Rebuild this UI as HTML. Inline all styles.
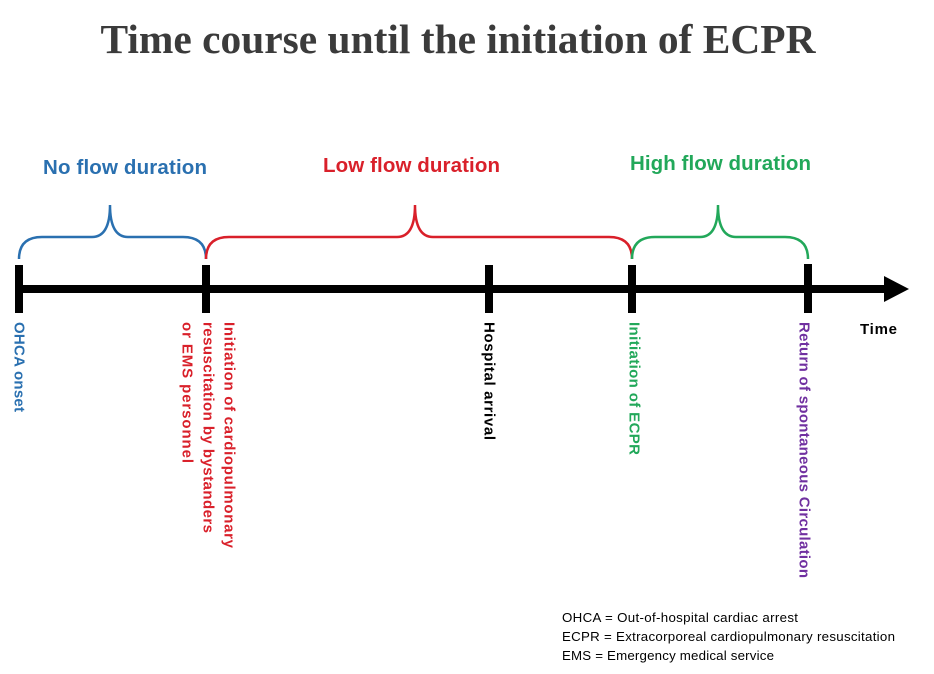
<!DOCTYPE html>
<html><head><meta charset="utf-8"><style>
html,body{margin:0;padding:0;background:#fff;width:934px;height:674px;overflow:hidden}
svg{display:block}
.t{font-family:"Liberation Sans",sans-serif;font-weight:bold;font-size:15px}
</style></head><body>
<svg width="934" height="674" xmlns="http://www.w3.org/2000/svg">
<text x="458" y="53" text-anchor="middle" font-family="Liberation Serif,serif" font-weight="bold" font-size="41.5" fill="#3b3b3b" textLength="715" lengthAdjust="spacingAndGlyphs">Time course until the initiation of ECPR</text>
<text x="43" y="174" font-family="Liberation Sans,sans-serif" font-weight="bold" font-size="20.5" fill="#2a70b0" textLength="164">No flow duration</text>
<text x="323" y="172" font-family="Liberation Sans,sans-serif" font-weight="bold" font-size="20.5" fill="#d9202a" textLength="177">Low flow duration</text>
<text x="630" y="170" font-family="Liberation Sans,sans-serif" font-weight="bold" font-size="20.5" fill="#22a85a" textLength="181">High flow duration</text>
<g fill="none" stroke-width="2.5">
<path d="M19 259 Q19 237 42 237 L92 237 Q110 237 110 205 Q110 237 128 237 L183 237 Q206 237 206 259" stroke="#2a70b0"/>
<path d="M206 259 Q206 237 229 237 L397 237 Q415 237 415 205 Q415 237 433 237 L609 237 Q632 237 632 259" stroke="#d9202a"/>
<path d="M632 259 Q632 237 655 237 L700 237 Q718 237 718 205 Q718 237 736 237 L785 237 Q808 237 808 259" stroke="#22a85a"/>
</g>
<rect x="15" y="285" width="872" height="8" fill="#000"/>
<polygon points="884,276 909,289 884,302" fill="#000"/>
<rect x="15" y="265" width="8" height="48" fill="#000"/>
<rect x="202" y="265" width="8" height="48" fill="#000"/>
<rect x="485" y="265" width="8" height="48" fill="#000"/>
<rect x="628" y="265" width="8" height="48" fill="#000"/>
<rect x="804" y="264" width="8" height="49" fill="#000"/>
<g class="t" dominant-baseline="central">
<text transform="translate(19,322) rotate(90)" fill="#2a70b0" textLength="90">OHCA onset</text>
<text transform="translate(229,322) rotate(90)" fill="#d9202a" textLength="226">Initiation of cardiopulmonary</text>
<text transform="translate(208,322) rotate(90)" fill="#d9202a" textLength="211">resuscitation by bystanders</text>
<text transform="translate(187,322) rotate(90)" fill="#d9202a" textLength="141">or EMS personnel</text>
<text transform="translate(489,322) rotate(90)" fill="#000" textLength="118">Hospital arrival</text>
<text transform="translate(634,322) rotate(90)" fill="#22a85a" textLength="133">Initiation of ECPR</text>
<text transform="translate(804,322) rotate(90)" fill="#7030a0" textLength="256">Return of spontaneous Circulation</text>
</g>
<text x="860" y="334" class="t" fill="#000" textLength="37">Time</text>
<g font-family="Liberation Sans,sans-serif" font-size="13.3" fill="#000">
<text x="562" y="622" textLength="236">OHCA = Out-of-hospital cardiac arrest</text>
<text x="562" y="641" textLength="333">ECPR = Extracorporeal cardiopulmonary resuscitation</text>
<text x="562" y="660" textLength="212">EMS = Emergency medical service</text>
</g>
</svg>
</body></html>
